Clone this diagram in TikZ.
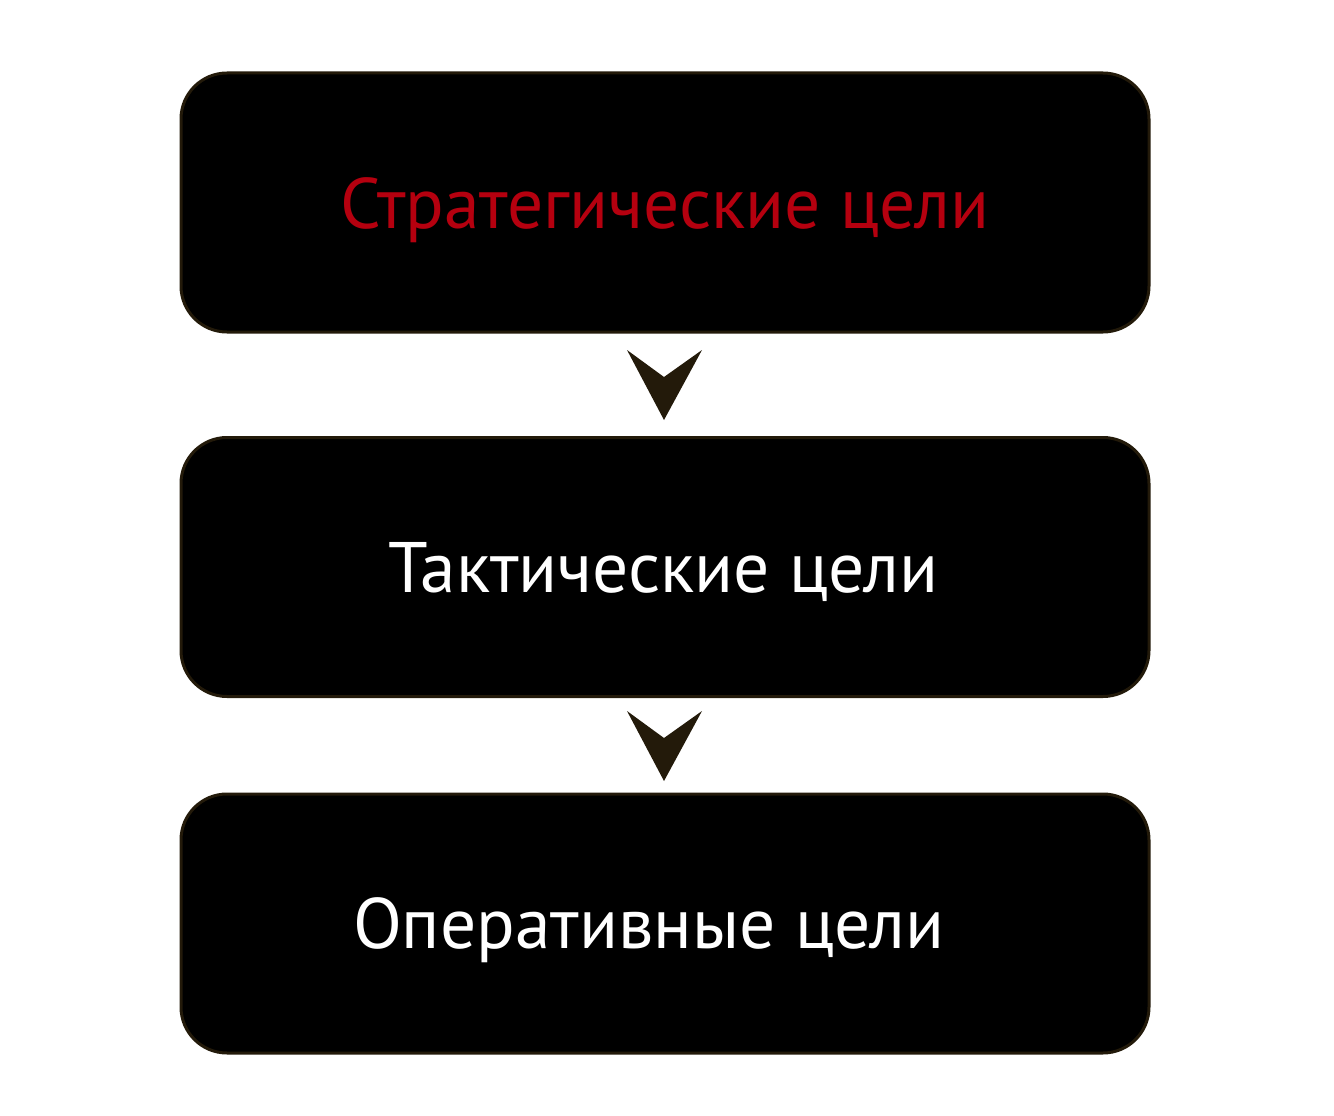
\documentclass[tikz,border=0pt]{standalone}
\usepackage{fontspec}
\setmainfont{PT Sans}
\definecolor{edge}{HTML}{231A0A}
\definecolor{stratred}{HTML}{B5000F}
\begin{document}
\begin{tikzpicture}[x=1pt,y=-1pt,
  goalbox/.style={draw=edge,line width=3pt,fill=black,rounded corners=46pt,
    rectangle,minimum width=968pt,minimum height=259pt,inner sep=0pt},
  goaltext/.style={font=\fontsize{71.5}{78}\selectfont,inner sep=0pt,anchor=base},
  chev/.style={fill=edge,draw=none}]
\useasboundingbox[fill=white] (0,0) rectangle (1334,1116);
\node[goalbox] (b1) at (665,202.5) {};
\node[goalbox] (b2) at (665,567) {};
\node[goalbox] (b3) at (665,923.5) {};
\node[goaltext,text=stratred] (s) at (665,228) {Стратегические цели};
\node[goaltext,text=white] (t) at (663.5,592) {Тактические цели};
\node[goaltext,text=white] (o) at (648.5,948) {Оперативные цели};
\fill[chev] (627,350) -- (664,377) -- (702,350) -- (664,420) -- cycle;
\fill[chev] (627,711) -- (664,738) -- (702,711) -- (664,781) -- cycle;
\end{tikzpicture}
\end{document}
